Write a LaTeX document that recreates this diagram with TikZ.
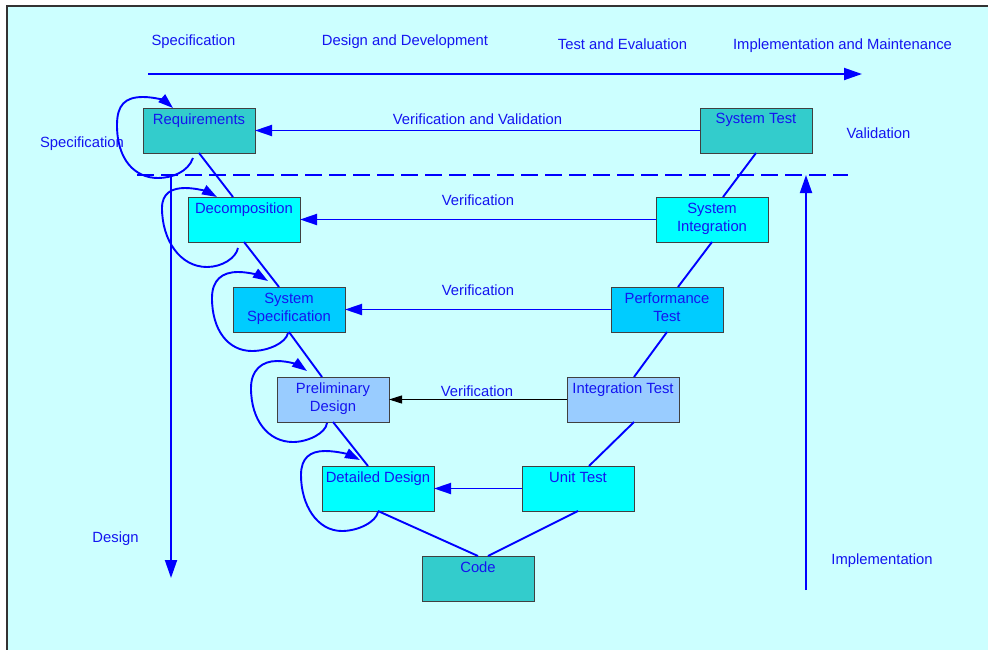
\documentclass[tikz,border=0pt]{standalone}
\usepackage{fontspec}
\setmainfont{Liberation Sans}
\usetikzlibrary{arrows.meta,calc}
\definecolor{bgc}{HTML}{CCFFFF}
\definecolor{tealbox}{HTML}{33CCCC}
\definecolor{cyanbox}{HTML}{00FFFF}
\definecolor{skybox}{HTML}{00CCFF}
\definecolor{palebox}{HTML}{99CCFF}
\definecolor{lineblue}{HTML}{0000FF}
\definecolor{txtblue}{HTML}{1414F0}
\begin{document}
\begin{tikzpicture}[x=1pt,y=-1pt,
  every node/.style={font=\fontsize{14.8}{18}\selectfont, text=txtblue, inner sep=0pt, outer sep=0pt},
  vbox/.style={draw=black!75, line width=1pt, minimum width=112pt, minimum height=45pt, anchor=north west},
  boxtext/.style={anchor=north, align=center},
  lbl/.style={anchor=base},
  bline/.style={draw=lineblue, line width=1.9pt},
  bigarrow/.style={bline, -{Triangle[length=18pt,width=12pt]}},
  midarrow/.style={bline, -{Triangle[length=17pt,width=11pt]}},
  looparrow/.style={bline, -{Triangle[length=15pt,width=10pt]}},
  blackarrow/.style={draw=black, line width=1pt, -{Triangle[length=13pt,width=8pt]}},
]
\useasboundingbox (0,0) rectangle (988,649);
\fill[white] (0,0) rectangle (988,649);
\draw[fill=bgc, draw=black!80, line width=1.6pt] (7,6) rectangle (1000,660);

% coordinates for free arrows
\coordinate (topL) at (148,74);
\coordinate (topR) at (862,74);
\coordinate (dashL) at (137,175);
\coordinate (dashR) at (848,175);
\coordinate (desA) at (171,175);
\coordinate (desB) at (171,578);
\coordinate (impA) at (806,590);
\coordinate (impB) at (806,175);

% boxes
\node[vbox, fill=tealbox] (req) at (143,108) {};
\node[vbox, fill=tealbox] (st)  at (700,108) {};
\node[vbox, fill=cyanbox] (dec) at (188,197) {};
\node[vbox, fill=cyanbox] (si)  at (656,197) {};
\node[vbox, fill=skybox]  (ss)  at (233,287) {};
\node[vbox, fill=skybox]  (pt)  at (611,287) {};
\node[vbox, fill=palebox] (pd)  at (277,377) {};
\node[vbox, fill=palebox] (it)  at (567,377) {};
\node[vbox, fill=cyanbox] (dd)  at (322,466) {};
\node[vbox, fill=cyanbox] (ut)  at (522,466) {};
\node[vbox, fill=tealbox] (code) at (422,556) {};

% box texts
\node[boxtext] (req-t) at ($(req.north)+(0,5.5)$) {Requirements};
\node[boxtext] (st-t)  at ($(st.north)+(0,5.5)$) {System Test};
\node[boxtext] (dec-t) at ($(dec.north)+(0,5.5)$) {Decomposition};
\node[boxtext] (si-t)  at ($(si.north)+(0,6)$) {System\\Integration};
\node[boxtext] (ss-t)  at ($(ss.north)+(0,6)$) {System\\Specification};
\node[boxtext] (pt-t)  at ($(pt.north)+(0,6)$) {Performance\\Test};
\node[boxtext] (pd-t)  at ($(pd.north)+(0,6)$) {Preliminary\\Design};
\node[boxtext] (it-t)  at ($(it.north)+(0,5.5)$) {Integration Test};
\node[boxtext] (dd-t)  at ($(dd.north)+(0,5.5)$) {Detailed Design};
\node[boxtext] (ut-t)  at ($(ut.north)+(0,5.5)$) {Unit Test};
\node[boxtext] (code-t) at ($(code.north)+(0,5.5)$) {Code};

% free labels
\node[lbl] (l-spec)  at (193.5,45) {Specification};
\node[lbl] (l-dd)    at (405,45) {Design and Development};
\node[lbl] (l-te)    at (622.5,49) {Test and Evaluation};
\node[lbl] (l-im)    at (842.5,49) {Implementation and Maintenance};
\node[lbl] (l-spec2) at (82,147) {Specification};
\node[lbl] (l-val)   at (878.5,138) {Validation};
\node[lbl] (l-des)   at (115.5,542) {Design};
\node[lbl] (l-impl)  at (882,564) {Implementation};
\node[lbl] (l-vv)    at (477.5,124) {Verification and Validation};
\node[lbl] (l-v1)    at (478,205) {Verification};
\node[lbl] (l-v2)    at (478,295) {Verification};
\node[lbl] (l-v3)    at (477,396) {Verification};

% timeline, divider, side arrows
\draw[bigarrow] (topL) -- (topR);
\draw[bline, dash pattern=on 17pt off 7pt] (dashL) -- (dashR);
\draw[bigarrow] (desA) -- (desB);
\draw[bigarrow] (impA) -- (impB);

% verification arrows
\draw[midarrow] (st) -- (req);
\draw[midarrow] (si) -- (dec);
\draw[midarrow] (pt) -- (ss);
\draw[blackarrow] (it) -- (pd);
\draw[midarrow] (ut) -- (dd);

% V lines
\draw[bline] (req.south) -- ($(dec.north)+(-11,0)$);
\draw[bline] (dec.south) -- ($(ss.north)+(-10,0)$);
\draw[bline] (ss.south) -- ($(pd.north)+(-11,0)$);
\draw[bline] (pd.south) -- ($(dd.north)+(-10,0)$);
\draw[bline] (dd.south) -- (code.north);
\draw[bline] ($(code.north)+(10,0)$) -- (ut.south);
\draw[bline] ($(ut.north)+(11,0)$) -- ($(it.south)+(11,0)$);
\draw[bline] ($(it.north)+(11,0)$) -- (pt.south);
\draw[bline] ($(pt.north)+(11,0)$) -- (si.south);
\draw[bline] ($(si.north)+(11,0)$) -- (st.south);

% iteration loops
\draw[looparrow] (193,158) .. controls (188,172) and (172,178) .. (158,178)
  .. controls (135,178) and (117,160) .. (117,125)
  .. controls (117,105) and (125,97) .. (143,97)
  .. controls (155,97) and (165,101) .. (173,108);
\draw[looparrow] (238,248) .. controls (236,258) and (222,267) .. (207,267)
  .. controls (180,267) and (162,240) .. (162,208)
  .. controls (162,193) and (172,188) .. (185,188)
  .. controls (197,188) and (208,192) .. (217,197);
\draw[looparrow] (288,333) .. controls (286,343) and (268,351) .. (252,351)
  .. controls (228,351) and (212,330) .. (212,298)
  .. controls (212,280) and (222,272) .. (238,272)
  .. controls (250,272) and (260,276) .. (268,281);
\draw[looparrow] (327,423) .. controls (326,433) and (308,442) .. (293,442)
  .. controls (268,442) and (251,420) .. (251,388)
  .. controls (251,370) and (262,361) .. (277,361)
  .. controls (290,361) and (300,366) .. (307,371);
\draw[looparrow] (378,512) .. controls (376,522) and (358,531) .. (342,531)
  .. controls (317,531) and (301,505) .. (301,475)
  .. controls (301,458) and (310,451) .. (325,451)
  .. controls (338,451) and (350,455) .. (360,460);
\end{tikzpicture}
\end{document}
